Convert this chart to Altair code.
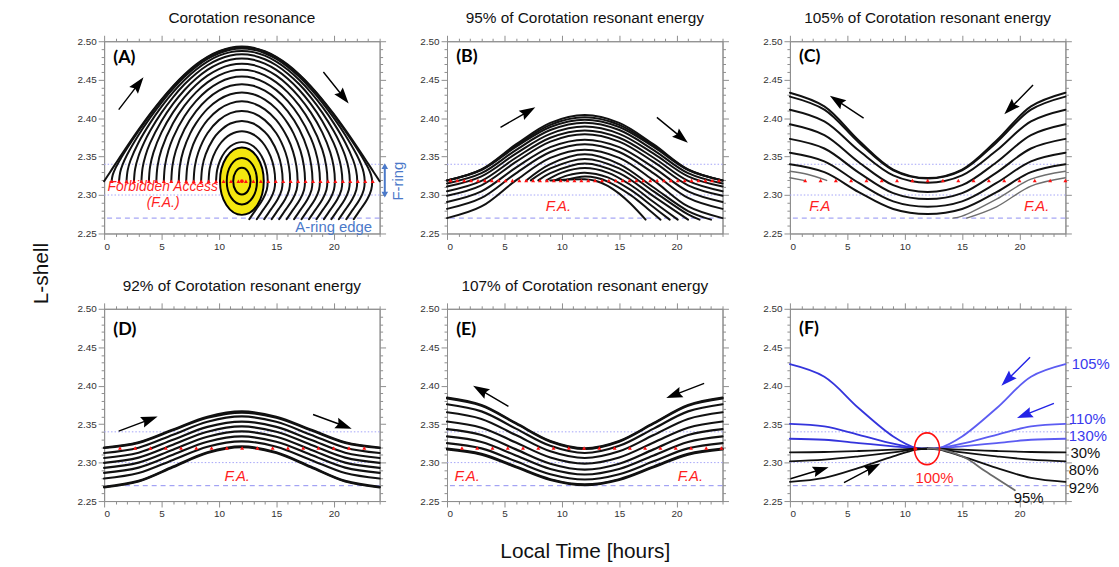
import math
import altair as alt
import pandas as pd

FONT = "Liberation Sans"
GRAY = "#8e8e8e"
INK = "#111111"
RED = "#ff1f1f"
BLUE_TXT = "#4b79c9"
W, H = 278, 194

# ---------------- axis ticks ----------------
X_TICKS = [0, 1, 2, 3, 4, 5, 6, 7, 8, 9, 10, 11, 12, 13, 14, 15, 16, 17, 18, 19, 20, 21, 22, 23, 24]
Y_TICKS = [2.25, 2.26, 2.27, 2.28, 2.29, 2.30, 2.31, 2.32, 2.33, 2.34, 2.35, 2.36, 2.37, 2.38,
           2.39, 2.40, 2.41, 2.42, 2.43, 2.44, 2.45, 2.46, 2.47, 2.48, 2.49, 2.50]

# reference levels
RED_Y_A = 2.318
RED_Y = 2.319
DOTTED_Y = [2.34, 2.30]
DASHED_Y = [2.27]

# ---------------- panel A: left halves of the arches (foot -> peak at 12 h) ----------------
A_ARCHES = [
    [[0, 2.318], [0.5, 2.3294], [1, 2.3408], [2, 2.3633], [3, 2.3850], [4, 2.4055], [5, 2.4245], [6, 2.4417], [7, 2.4568], [8, 2.4696], [9, 2.4797], [10, 2.4870], [11, 2.4915], [12, 2.4930]],
    [[0.65, 2.318], [0.75, 2.3262], [1, 2.3353], [1.5, 2.3487], [2, 2.3608], [3, 2.3833], [4, 2.4042], [5, 2.4235], [6, 2.4409], [7, 2.4560], [8, 2.4688], [9, 2.4790], [10, 2.4864], [11, 2.4909], [12, 2.4924]],
    [[1.3, 2.318], [1.4, 2.3296], [1.6, 2.3391], [2, 2.3523], [3, 2.3781], [4, 2.4003], [5, 2.4203], [6, 2.4381], [7, 2.4536], [8, 2.4666], [9, 2.4769], [10, 2.4844], [11, 2.4890], [12, 2.4905]],
    [[1.95, 2.318], [2.05, 2.332], [2.3, 2.3452], [3, 2.3683], [4, 2.3935], [5, 2.4149], [6, 2.4336], [7, 2.4496], [8, 2.4630], [9, 2.4735], [10, 2.4812], [11, 2.4858], [12, 2.4873]],
    [[2.6, 2.318], [2.7, 2.3339], [3, 2.3508], [3.5, 2.3688], [4, 2.3832], [5, 2.4071], [6, 2.4271], [7, 2.4440], [8, 2.4578], [9, 2.4688], [10, 2.4766], [11, 2.4814], [12, 2.4830]],
    [[3.25, 2.318], [3.35, 2.3354], [3.6, 2.3511], [4, 2.3674], [5, 2.3963], [6, 2.4185], [7, 2.4366], [8, 2.4512], [9, 2.4627], [10, 2.4708], [11, 2.4758], [12, 2.4774]],
    [[3.9, 2.318], [4, 2.3365], [4.3, 2.3555], [5, 2.3815], [6, 2.4075], [7, 2.4274], [8, 2.4431], [9, 2.4552], [10, 2.4638], [11, 2.4690], [12, 2.4707]],
    [[4.55, 2.318], [4.65, 2.3373], [5, 2.3594], [6, 2.3933], [7, 2.4162], [8, 2.4335], [9, 2.4465], [10, 2.4556], [11, 2.4611], [12, 2.4629]],
    [[5.2, 2.318], [5.3, 2.3378], [5.6, 2.3578], [6, 2.3744], [7, 2.4025], [8, 2.4221], [9, 2.4364], [10, 2.4462], [11, 2.4521], [12, 2.4540]],
    [[5.85, 2.318], [5.95, 2.3380], [6.25, 2.3580], [7, 2.3856], [8, 2.4089], [9, 2.4249], [10, 2.4357], [11, 2.4421], [12, 2.4442]],
    [[6.5, 2.318], [6.6, 2.3379], [6.9, 2.3577], [7.5, 2.3801], [8, 2.3932], [9, 2.4120], [10, 2.4241], [11, 2.4311], [12, 2.4334]],
    [[7.15, 2.318], [7.25, 2.3376], [7.55, 2.3568], [8, 2.3738], [9, 2.3973], [10, 2.4114], [11, 2.4192], [12, 2.4218]],
    [[7.8, 2.318], [7.9, 2.3369], [8.2, 2.3553], [9, 2.3803], [10, 2.3974], [11, 2.4065], [12, 2.4094]],
    [[8.45, 2.318], [8.55, 2.3359], [8.85, 2.3531], [9.5, 2.3727], [10, 2.3820], [11, 2.3930], [12, 2.3964]],
    [[9.1, 2.318], [9.2, 2.3346], [9.5, 2.3503], [10, 2.3644], [10.5, 2.3731], [11, 2.3787], [12, 2.3829]],
    [[9.75, 2.318], [9.85, 2.3329], [10.1, 2.3449], [10.5, 2.3556], [11, 2.3634], [11.5, 2.3675], [12, 2.3688]],
]
# below the red line, the right legs bend to the lower left down to the A-ring edge
A_LEG_DX = [-0.08, -0.43, -1.0, -1.6]
A_LEG_Y = [2.307, 2.2945, 2.2816, 2.2687]
A_CENTER = [12, 2.318]
A_MARKS = [0.65, 1.3, 1.95, 2.6, 3.25, 3.9, 4.55, 5.2, 5.85, 6.5, 7.15, 7.8, 8.45, 9.1, 9.75, 10.4,
           11.05, 11.7, 12.35, 13.0, 13.65, 14.3, 14.95, 15.6, 16.25, 16.9, 17.55, 18.2, 18.85, 19.5,
           20.15, 20.8, 21.45, 22.1, 22.75, 23.4]
A_ARROWS = [[1.27, 2.411, 3.43, 2.453], [19.1, 2.460, 21.3, 2.419]]

# ---------------- panels B-E: symmetric curves, values at 0, 3, 6, 9, 12 h ----------------
X5 = [0, 3, 6, 9, 12]
B_SYM = [
    [2.319, 2.3334, 2.3658, 2.3938, 2.404],
    [2.319, 2.3329, 2.3641, 2.3912, 2.401],
    [2.319, 2.3324, 2.3625, 2.3885, 2.398],
    [2.315, 2.3284, 2.3585, 2.3845, 2.394],
    [2.311, 2.3243, 2.3539, 2.3796, 2.389],
    [2.305, 2.3184, 2.3485, 2.3745, 2.384],
    [2.299, 2.3126, 2.3430, 2.3694, 2.379],
    [2.291, 2.3048, 2.3356, 2.3623, 2.372],
    [2.282, 2.2963, 2.3282, 2.3559, 2.366],
    [2.270, 2.2851, 2.3190, 2.3483, 2.359],
]
B_PART = [
    [[6.9, 2.319], [9, 2.3403], [12, 2.353], [15, 2.3403], [18, 2.3098], [21, 2.2792], [23.0, 2.268]],
    [[7.3, 2.319], [9, 2.3346], [12, 2.347], [15, 2.3346], [18, 2.3047], [21, 2.2747], [22.0, 2.268]],
    [[7.95, 2.319], [9, 2.3285], [12, 2.341], [15, 2.3285], [18, 2.2983], [21, 2.268]],
    [[8.66, 2.319], [10, 2.3291], [12, 2.335], [14, 2.3291], [16, 2.3130], [18, 2.2909], [20.1, 2.268]],
    [[9.4, 2.319], [10.5, 2.3256], [12, 2.329], [14, 2.3230], [16, 2.3066], [18, 2.2841], [19.4, 2.268]],
    [[10.2, 2.319], [12, 2.324], [13, 2.3224], [14, 2.3175], [16, 2.2998], [17.5, 2.2819], [18.6, 2.268]],
    [[9.0, 2.319], [12, 2.3205], [13, 2.3183], [14, 2.3120], [15, 2.3018], [16, 2.2886], [17.3, 2.268]],
]
B_MARKS = [0.3, 0.9, 1.5, 2.1, 2.7, 3.3, 3.9, 4.5, 5.1, 5.7, 6.3, 6.9, 7.5, 8.1, 8.7, 9.3, 9.9, 10.5,
           11.1, 11.7, 12.3, 12.9, 13.5, 14.1, 14.7, 15.3, 15.9, 16.5, 17.1, 17.7, 18.3, 18.9, 19.5,
           20.1, 20.7, 21.3, 21.9, 22.5, 23.1, 23.7]
B_ARROWS = [[4.66, 2.388, 7.69, 2.414], [18.28, 2.401, 20.98, 2.368]]

C_SYM = [
    [2.433, 2.4152, 2.3708, 2.3331, 2.3220],
    [2.428, 2.4110, 2.3684, 2.3322, 2.3215],
    [2.411, 2.3958, 2.3578, 2.3255, 2.3160],
    [2.392, 2.3779, 2.3427, 2.3128, 2.3040],
    [2.373, 2.3605, 2.3292, 2.3025, 2.2947],
    [2.355, 2.3438, 2.3157, 2.2918, 2.2848],
    [2.340, 2.3297, 2.3038, 2.2819, 2.2754],
]
C_GRAY = [
    [[14.2, 2.27], [15, 2.2725], [18, 2.2946], [21, 2.3206], [24, 2.331]],
    [[15.4, 2.27], [18, 2.2847], [21, 2.3116], [24, 2.3224]],
    [[0, 2.331], [1.5, 2.327], [3.2, 2.319]],
    [[0, 2.3224], [1.2, 2.319]],
]
C_MARKS = [1.33, 2.67, 4.0, 5.33, 6.67, 8.0, 9.33, 10.67, 12.0, 13.33, 14.67, 16.0, 17.33, 18.67,
           20.0, 21.33, 22.67, 24.0]
C_ARROWS = [[6.42, 2.400, 3.48, 2.429], [21.18, 2.443, 18.68, 2.405]]

D_SYM = [
    [2.3195, 2.3264, 2.3430, 2.3596, 2.3665],
    [2.3190, 2.3257, 2.3420, 2.3583, 2.3650],
    [2.3125, 2.3194, 2.3363, 2.3531, 2.3600],
    [2.3060, 2.3129, 2.3297, 2.3465, 2.3534],
    [2.2996, 2.3065, 2.3233, 2.3401, 2.3470],
    [2.2931, 2.3000, 2.3168, 2.3336, 2.3405],
    [2.2866, 2.2935, 2.3103, 2.3271, 2.3340],
    [2.2793, 2.2864, 2.3035, 2.3206, 2.3276],
    [2.2685, 2.2762, 2.2948, 2.3134, 2.3211],
    [2.2678, 2.2754, 2.2939, 2.3124, 2.3200],
]
D_MARKS = [1.38, 2.71, 4.04, 5.37, 6.7, 8.03, 9.36, 10.69, 12.02, 13.35, 14.68, 16.01, 17.34,
           18.67, 20.0, 21.33, 22.66]
D_ARROWS = [[1.27, 2.341, 4.66, 2.360], [18.2, 2.3625, 21.57, 2.344]]

E_SYM = [
    [2.3845, 2.3749, 2.3515, 2.3281, 2.3185],
    [2.3836, 2.3740, 2.3507, 2.3273, 2.3177],
    [2.3759, 2.3666, 2.3442, 2.3218, 2.3125],
    [2.3655, 2.3568, 2.3358, 2.3147, 2.3060],
    [2.3534, 2.3454, 2.3261, 2.3067, 2.2987],
    [2.3435, 2.3358, 2.3172, 2.2986, 2.2909],
    [2.3340, 2.3268, 2.3093, 2.2917, 2.2845],
    [2.3254, 2.3185, 2.3017, 2.2849, 2.2780],
    [2.3181, 2.3113, 2.2949, 2.2784, 2.2716],
    [2.3172, 2.3104, 2.2940, 2.2776, 2.2708],
]
E_MARKS = [1.3, 2.63, 3.96, 5.29, 6.62, 7.95, 9.28, 10.61, 11.94, 13.27, 14.6, 15.93, 17.26, 18.59,
           19.92, 21.25, 22.58, 23.9]
E_ARROWS = [[5.35, 2.373, 2.27, 2.400], [22.4, 2.403, 19.1, 2.384]]

# ---------------- panel F ----------------
F_NAMES = ["105%", "110%", "130%", "30%", "80%", "92%"]
F_LEFT = [
    [[0, 2.428], [3, 2.4116], [6, 2.3707], [9, 2.3340], [11, 2.3190], [12, 2.318]],
    [[0, 2.3504], [3, 2.3470], [6, 2.3362], [9, 2.3246], [11, 2.3190], [12, 2.318]],
    [[0, 2.3310], [3, 2.3297], [6, 2.3254], [9, 2.3211], [11, 2.3185], [12, 2.318]],
    [[0, 2.3134], [3, 2.3138], [6, 2.3151], [9, 2.3168], [11, 2.3180], [12, 2.318]],
    [[0, 2.3017], [3, 2.3039], [6, 2.3082], [9, 2.3134], [11, 2.3175], [12, 2.318]],
    [[0, 2.2750], [3, 2.2802], [6, 2.2931], [9, 2.3082], [11, 2.3170], [12, 2.318]],
]
F_95 = [[12, 2.318], [13, 2.3175], [15.3, 2.306], [17, 2.289], [19.6, 2.264]]
F_LABELS = [["105%", 24.55, 2.428], ["110%", 24.3, 2.3565], ["130%", 24.3, 2.334],
            ["30%", 24.45, 2.3125], ["80%", 24.3, 2.2897], ["92%", 24.3, 2.2672]]
F_ARROWS_BLUE = [[20.92, 2.437, 18.42, 2.400], [23.0, 2.377, 19.78, 2.358]]
F_ARROWS_BLACK = [[0.05, 2.279, 3.37, 2.294], [4.71, 2.274, 7.88, 2.2988]]
F_RING = [11.94, 2.318]
F_DOT = [10.94, 2.318]

TITLES = ["Corotation resonance", "95% of Corotation resonant energy",
          "105% of Corotation resonant energy", "92% of Corotation resonant energy",
          "107% of Corotation resonant energy"]
LETTERS = ["(A)", "(B)", "(C)", "(D)", "(E)", "(F)"]
LETTER_POS = [[0.8, 2.478], [0.8, 2.479], [0.8, 2.479], [0.8, 2.472], [0.8, 2.472], [0.8, 2.474]]

# ---------------- styling helpers ----------------
XS = alt.Scale(domain=[0, 24], nice=False, zero=False)
YS = alt.Scale(domain=[2.25, 2.50], nice=False, zero=False)
X_MAJOR = "datum.value % 5 === 0"
Y_MAJOR = "round(datum.value * 100) % 5 === 0"
ARROW = "M-1,-0.035L0.3,-0.035L0.2,-0.27L1,0L0.2,0.27L0.3,0.035L-1,0.035Z"
ELL = "M0,-1C0.359,-1,0.65,-0.552,0.65,0C0.65,0.552,0.359,1,0,1C-0.359,1,-0.65,0.552,-0.65,0C-0.65,-0.552,-0.359,-1,0,-1Z"
RED_ELL = "M0,-1C0.436,-1,0.79,-0.552,0.79,0C0.79,0.552,0.436,1,0,1C-0.436,1,-0.79,0.552,-0.79,0C-0.79,-0.552,-0.436,-1,0,-1Z"


def axis_common(values, test):
    return dict(values=values, grid=False, domainColor=GRAY, tickColor=GRAY, tickWidth=1,
                domainWidth=1,
                tickSize={"condition": {"test": test, "value": 6}, "value": 3})


def x_axis(title=None):
    kw = axis_common(X_TICKS, X_MAJOR)
    kw.update(orient="bottom", labelExpr=X_MAJOR + " ? datum.label : ''", labelFont=FONT,
              labelFontSize=10, labelColor="#333", labelPadding=2, labelOverlap=False)
    if title:
        kw.update(title=title, titleFont=FONT, titleFontSize=21, titleFontWeight="normal",
                  titleColor=INK, titlePadding=22)
    else:
        kw.update(title=None)
    return alt.Axis(**kw)


def y_axis(title=None):
    kw = axis_common(Y_TICKS, Y_MAJOR)
    kw.update(orient="left", labelExpr=Y_MAJOR + " ? format(datum.value, '.2f') : ''",
              labelFont=FONT, labelFontSize=10, labelColor="#333", labelPadding=2,
              labelOverlap=False)
    if title:
        kw.update(title=title, titleFont=FONT, titleFontSize=21, titleFontWeight="normal",
                  titleColor=INK, titleX=-63, titleY=234, titleBaseline="middle",
                  titleAlign="center", titleAngle=270)
    else:
        kw.update(title=None)
    return alt.Axis(**kw)


def mirror_layer():
    kx = axis_common(X_TICKS, X_MAJOR)
    kx.update(orient="top", labels=False, title=None)
    ky = axis_common(Y_TICKS, Y_MAJOR)
    ky.update(orient="right", labels=False, title=None)
    return alt.Chart(pd.DataFrame({"x": [0], "y": [2.25]})).mark_point(opacity=0).encode(
        x=alt.X("x:Q", scale=XS, axis=alt.Axis(**kx)),
        y=alt.Y("y:Q", scale=YS, axis=alt.Axis(**ky)))


def sym(vals):
    left = [[x, y] for x, y in zip(X5, vals)]
    return left + [[24 - x, y] for x, y in reversed(left[:-1])]


def lines_df(curves):
    rows = []
    for i, (pts, col, sw) in enumerate(curves):
        for j, (x, y) in enumerate(pts):
            rows.append(dict(cid=i, o=j, x=x, y=y, col=col, sw=sw))
    return pd.DataFrame(rows)


def arrows_df(arrs, color):
    rows = []
    for x1, y1, x2, y2 in arrs:
        dxp = (x2 - x1) * W / 24.0
        dyp = -(y2 - y1) * H / 0.25
        ln = math.hypot(dxp, dyp)
        ang = math.degrees(math.atan2(dyp, dxp)) % 360
        rows.append(dict(x=(x1 + x2) / 2, y=(y1 + y2) / 2, angle=ang, size=ln * ln, col=color))
    return pd.DataFrame(rows)


def panel(curves, marks, red_y, arrows, texts, letter, letter_pos, title, axx, axy, extra=None):
    X = alt.X("x:Q", scale=XS, axis=axx)
    Y = alt.Y("y:Q", scale=YS, axis=axy)
    layers = [
        alt.Chart(pd.DataFrame({"y": DOTTED_Y})).mark_rule(
            color="#a4a4f8", strokeWidth=1, strokeDash=[1.5, 2]).encode(y=Y),
        alt.Chart(pd.DataFrame({"y": DASHED_Y})).mark_rule(
            color="#8f8ff2", strokeWidth=1, strokeDash=[5, 4]).encode(y=Y),
        alt.Chart(lines_df(curves)).mark_line(
            interpolate="catmull-rom", strokeCap="round", strokeJoin="round").encode(
            x=X, y=Y, detail="cid:N", order="o:Q",
            color=alt.Color("col:N", scale=None),
            strokeWidth=alt.StrokeWidth("sw:Q", scale=None)),
    ]
    if extra:
        layers += extra(X, Y)
    if marks:
        layers.append(alt.Chart(pd.DataFrame({"x": marks, "y": [red_y] * len(marks)})).mark_point(
            shape="triangle-up", filled=True, color="#ff1010", size=16, opacity=1).encode(x=X, y=Y))
    for arr_df in arrows:
        layers.append(alt.Chart(arr_df).mark_point(shape=ARROW, filled=True, opacity=1).encode(
            x=X, y=Y, angle=alt.Angle("angle:Q", scale=None),
            size=alt.Size("size:Q", scale=None), color=alt.Color("col:N", scale=None)))
    for t in texts:
        txt, tx, ty, col, fs, style, align, angle = t
        kw = dict(font=FONT, fontSize=fs, color=col, align=align, baseline="middle")
        if style == "italic":
            kw["fontStyle"] = "italic"
        if angle:
            kw["angle"] = angle
        layers.append(alt.Chart(pd.DataFrame({"x": [tx], "y": [ty], "t": [txt]})).mark_text(**kw).encode(
            x=X, y=Y, text="t:N"))
    layers.append(alt.Chart(pd.DataFrame({"x": [letter_pos[0]], "y": [letter_pos[1]], "t": [letter]})).mark_text(
        font="Lato", fontWeight="bold", fontSize=18, color="#000", align="left", baseline="middle").encode(
        x=X, y=Y, text="t:N"))
    inner = alt.layer(*layers)
    props = dict(width=W, height=H)
    if title:
        props["title"] = alt.TitleParams(title, font=FONT, fontSize=15.5, fontWeight="normal",
                                         color=INK, anchor="middle", frame="group", offset=16,
                                         dy=20, baseline="alphabetic")
    return alt.layer(inner, mirror_layer()).resolve_axis(x="independent", y="independent").properties(**props)


# ---------------- build panel A ----------------
a_curves = []
for k, left in enumerate(A_ARCHES):
    pts = [list(p) for p in left]
    for x, y in reversed(left[:-1]):
        pts.append([24 - x, y])
    if k > 0:
        xc = 24 - left[0][0]
        for dx, yy in zip(A_LEG_DX, A_LEG_Y):
            pts.append([xc + dx, yy])
    a_curves.append((pts, INK, 2))


def a_extra(X, Y):
    c = pd.DataFrame({"x": [A_CENTER[0]], "y": [A_CENTER[1]]})
    rings = pd.DataFrame({"x": [A_CENTER[0]] * 2, "y": [A_CENTER[1]] * 2, "s": [47 * 47, 27 * 27]})
    fr = pd.DataFrame({"x": [24.45], "y": [2.3015], "y2": [2.3365]})
    heads = pd.DataFrame({"x": [24.45, 24.45], "y": [2.3375, 2.3005],
                          "shp": ["triangle-up", "triangle-down"]})
    return [
        alt.Chart(c).mark_point(shape=ELL, size=68 * 68, fill="#f4e70f", stroke="black",
                                strokeWidth=2, opacity=1, filled=False).encode(x=X, y=Y),
        alt.Chart(rings).mark_point(shape=ELL, color="black", strokeWidth=2, opacity=1,
                                    filled=False).encode(x=X, y=Y, size=alt.Size("s:Q", scale=None)),
        alt.Chart(c).mark_point(shape="circle", filled=True, color="#ff1010", size=14,
                                opacity=1).encode(x=X, y=Y),
        alt.Chart(fr).mark_rule(color=BLUE_TXT, strokeWidth=2).encode(x=X, y=Y, y2="y2:Q"),
        alt.Chart(heads).mark_point(filled=True, color=BLUE_TXT, size=45, opacity=1).encode(
            x=X, y=Y, shape=alt.Shape("shp:N", scale=None)),
    ]


pA = panel(a_curves, A_MARKS, RED_Y_A,
           [arrows_df(A_ARROWS, "#000000")],
           [["Forbidden Access", 5.1, 2.311, RED, 14, "italic", "center", 0],
            ["(F.A.)", 5.14, 2.289, RED, 14, "italic", "center", 0],
            ["A-ring edge", 20.0, 2.259, BLUE_TXT, 15, "normal", "center", 0],
            ["F-ring", 25.6, 2.318, BLUE_TXT, 15, "normal", "center", 270]],
           LETTERS[0], LETTER_POS[0], TITLES[0], x_axis(), y_axis("L-shell"), a_extra)

# ---------------- panel B ----------------
b_curves = [(sym(v), INK, 2) for v in B_SYM] + [(p, INK, 2) for p in B_PART]
pB = panel(b_curves, B_MARKS, RED_Y, [arrows_df(B_ARROWS, "#000000")],
           [["F.A.", 9.7, 2.286, RED, 15, "italic", "center", 0]],
           LETTERS[1], LETTER_POS[1], TITLES[1], x_axis(), y_axis())

# ---------------- panel C ----------------
c_curves = [(sym(v), INK, 2) for v in C_SYM] + [(p, "#6e6e6e", 1.4) for p in C_GRAY]
pC = panel(c_curves, C_MARKS, RED_Y, [arrows_df(C_ARROWS, "#000000")],
           [["F.A", 2.6, 2.286, RED, 15, "italic", "center", 0],
            ["F.A.", 21.5, 2.286, RED, 15, "italic", "center", 0]],
           LETTERS[2], LETTER_POS[2], TITLES[2], x_axis(), y_axis())

# ---------------- panel D ----------------
d_curves = [(sym(v), INK, 2.2) for v in D_SYM]
pD = panel(d_curves, D_MARKS, RED_Y, [arrows_df(D_ARROWS, "#000000")],
           [["F.A.", 11.6, 2.283, RED, 15, "italic", "center", 0]],
           LETTERS[3], LETTER_POS[3], TITLES[3], x_axis(), y_axis())

# ---------------- panel E ----------------
e_curves = [(sym(v), INK, 2.2) for v in E_SYM]
pE = panel(e_curves, E_MARKS, RED_Y, [arrows_df(E_ARROWS, "#000000")],
           [["F.A.", 1.75, 2.282, RED, 15, "italic", "center", 0],
            ["F.A.", 21.2, 2.282, RED, 15, "italic", "center", 0]],
           LETTERS[4], LETTER_POS[4], TITLES[4], x_axis("Local Time [hours]"), y_axis())

# ---------------- panel F ----------------
f_curves = []
for name, left in zip(F_NAMES, F_LEFT):
    right = [[24 - x, y] for x, y in reversed(left)]
    blue = name in ("105%", "110%", "130%")
    f_curves.append((left, "#3434dc" if blue else INK, 1.8))
    f_curves.append((right, "#5c5cf2" if blue else INK, 1.8))
f_curves.append((F_95, "#6a6a6a", 1.8))

f_texts = []
for name, tx, ty in F_LABELS:
    blue = name in ("105%", "110%", "130%")
    f_texts.append([name, tx, ty, "#3a3aee" if blue else INK, 15, "normal", "left", 0])
f_texts.append(["95%", 20.8, 2.254, INK, 15, "normal", "center", 0])
f_texts.append(["100%", 12.6, 2.2793, RED, 15, "normal", "center", 0])


def f_extra(X, Y):
    ring = pd.DataFrame({"x": [F_RING[0]], "y": [F_RING[1]]})
    dot = pd.DataFrame({"x": [F_DOT[0]], "y": [F_DOT[1]]})
    return [
        alt.Chart(ring).mark_point(shape=RED_ELL, size=32 * 32, color="#ff1010", strokeWidth=1.6,
                                   opacity=1, filled=False).encode(x=X, y=Y),
        alt.Chart(dot).mark_point(shape="circle", filled=True, color="#ff1010", size=14,
                                  opacity=1).encode(x=X, y=Y),
    ]


pF = panel(f_curves, [], RED_Y,
           [arrows_df(F_ARROWS_BLUE, "#2323e6"), arrows_df(F_ARROWS_BLACK, "#000000")],
           f_texts, LETTERS[5], LETTER_POS[5], None, x_axis(), y_axis(), f_extra)

chart = alt.concat(pA, pB, pC, pD, pE, pF, columns=3,
                   spacing={"row": 76, "column": 68}, bounds="flush").properties(
    padding={"left": 22, "top": 0, "right": 0, "bottom": 0},
    background="white",
).configure_view(stroke=GRAY, strokeWidth=1)

chart.save("out.html", embed_options={"renderer": "svg", "actions": False})
